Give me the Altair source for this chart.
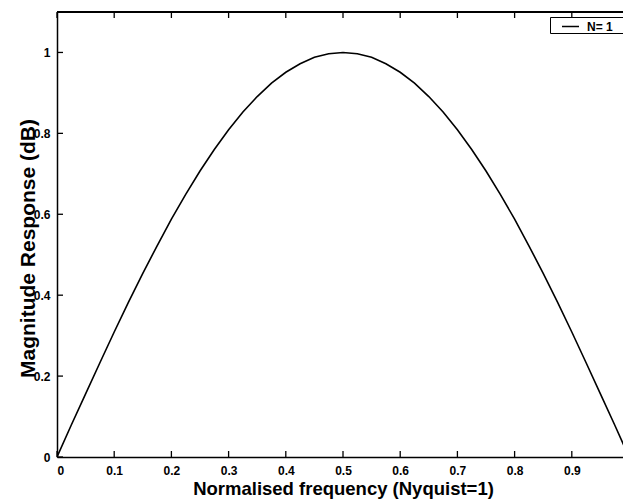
import altair as alt
import pandas as pd

# Magnitude response of the N=1 filter, sampled along normalised frequency
freq = [0.0, 0.025, 0.05, 0.075, 0.1, 0.125, 0.15, 0.175, 0.2, 0.225, 0.25,
        0.275, 0.3, 0.325, 0.35, 0.375, 0.4, 0.425, 0.45, 0.475, 0.5,
        0.525, 0.55, 0.575, 0.6, 0.625, 0.65, 0.675, 0.7, 0.725, 0.75,
        0.775, 0.8, 0.825, 0.85, 0.875, 0.9, 0.925, 0.95, 0.975, 1.0]
magnitude = [0.0, 0.079, 0.156, 0.233, 0.309, 0.383, 0.454, 0.522, 0.588, 0.649, 0.707,
             0.760, 0.809, 0.853, 0.891, 0.924, 0.951, 0.972, 0.988, 0.997, 1.0,
             0.997, 0.988, 0.972, 0.951, 0.924, 0.891, 0.853, 0.809, 0.760, 0.707,
             0.649, 0.588, 0.522, 0.454, 0.383, 0.309, 0.233, 0.156, 0.079, 0.0]
series = ["N= 1"] * len(freq)

x_ticks = [0.0, 0.1, 0.2, 0.3, 0.4, 0.5, 0.6, 0.7, 0.8, 0.9]
y_ticks = [0.0, 0.2, 0.4, 0.6, 0.8, 1.0]

df = pd.DataFrame({"f": freq, "mag": magnitude, "series": series})
x_tick_df = pd.DataFrame({"f": x_ticks})
y_tick_df = pd.DataFrame({"mag": y_ticks})

FONT = "Liberation Sans"
X_MAX = 0.9895
Y_MAX = 1.1
# inward tick length expressed in axis units (about 6 px on each axis)
TICK_X = 0.0105
TICK_Y = 0.0148

x_scale = alt.Scale(domain=[0, X_MAX], nice=False, zero=False)
y_scale = alt.Scale(domain=[0, Y_MAX], nice=False)

# Curve with the labelled axes
curve = alt.Chart(df).mark_line(color="black", strokeWidth=1.6, clip=True).encode(
    x=alt.X("f:Q", scale=x_scale, axis=alt.Axis(
        orient="bottom", values=x_ticks, format=".1~f", ticks=False,
        domain=True, domainColor="black", domainWidth=1.5,
        labelFont=FONT, labelFontSize=12, labelFontWeight="bold", labelColor="black",
        labelPadding=8, grid=False,
        title="Normalised frequency (Nyquist=1)", titleFont=FONT, titleFontSize=18.5,
        titleFontWeight="bold", titleColor="black", titleX=286, titleY=37,
        titleAlign="center", titleBaseline="alphabetic")),
    y=alt.Y("mag:Q", scale=y_scale, axis=alt.Axis(
        orient="left", values=y_ticks, format=".1~f", ticks=False,
        domain=True, domainColor="black", domainWidth=1.5,
        labelFont=FONT, labelFontSize=12, labelFontWeight="bold", labelColor="black",
        labelPadding=7, grid=False,
        title="Magnitude Response (dB)", titleFont=FONT, titleFontSize=21,
        titleFontWeight="bold", titleColor="black", titleX=-23, titleY=236,
        titleAngle=-90, titleAlign="center", titleBaseline="alphabetic")),
    color=alt.Color("series:N", scale=alt.Scale(range=["black"]), legend=alt.Legend(
        orient="none", legendX=493, legendY=5,
        title="\u00a0", titleOrient="right", titlePadding=14, titleFontSize=12,
        fillColor="white", strokeColor="black", padding=0,
        symbolType="stroke", symbolSize=289, symbolStrokeWidth=1.5,
        symbolStrokeColor="black", symbolOffset=11, labelOffset=7,
        labelFont=FONT, labelFontSize=12, labelFontWeight="bold", labelColor="black")),
)

# Inward ticks on the bottom edge
bottom_ticks = alt.Chart(x_tick_df).mark_rule(color="black", strokeWidth=1.3).encode(
    x=alt.X("f:Q", scale=x_scale, axis=None),
    y=alt.YDatum(0, scale=y_scale, axis=None),
    y2=alt.Y2Datum(TICK_Y),
)

# Inward ticks on the top edge
top_ticks = alt.Chart(x_tick_df).mark_rule(color="black", strokeWidth=1.3).encode(
    x=alt.X("f:Q", scale=x_scale, axis=None),
    y=alt.YDatum(Y_MAX, scale=y_scale, axis=None),
    y2=alt.Y2Datum(Y_MAX - TICK_Y),
)

# Inward ticks on the left edge
left_ticks = alt.Chart(y_tick_df).mark_rule(color="black", strokeWidth=1.3).encode(
    y=alt.Y("mag:Q", scale=y_scale, axis=None),
    x=alt.XDatum(0, scale=x_scale, axis=None),
    x2=alt.X2Datum(TICK_X),
)

# Top edge of the box, at the upper end of the magnitude range
top_edge = alt.Chart(df).mark_rule(color="black", strokeWidth=1.5).encode(
    y=alt.YDatum(Y_MAX, scale=y_scale, axis=None),
)

chart = alt.layer(curve, bottom_ticks, top_ticks, left_ticks, top_edge).resolve_axis(
    x="independent", y="independent"
).properties(
    width=566,
    height=445,
    autosize=alt.AutoSizeParams(type="none"),
    padding={"left": 57, "top": 12, "right": 0, "bottom": 44},
).configure_view(stroke=None)

chart.save("out.html", embed_options={"renderer": "svg", "actions": False})
